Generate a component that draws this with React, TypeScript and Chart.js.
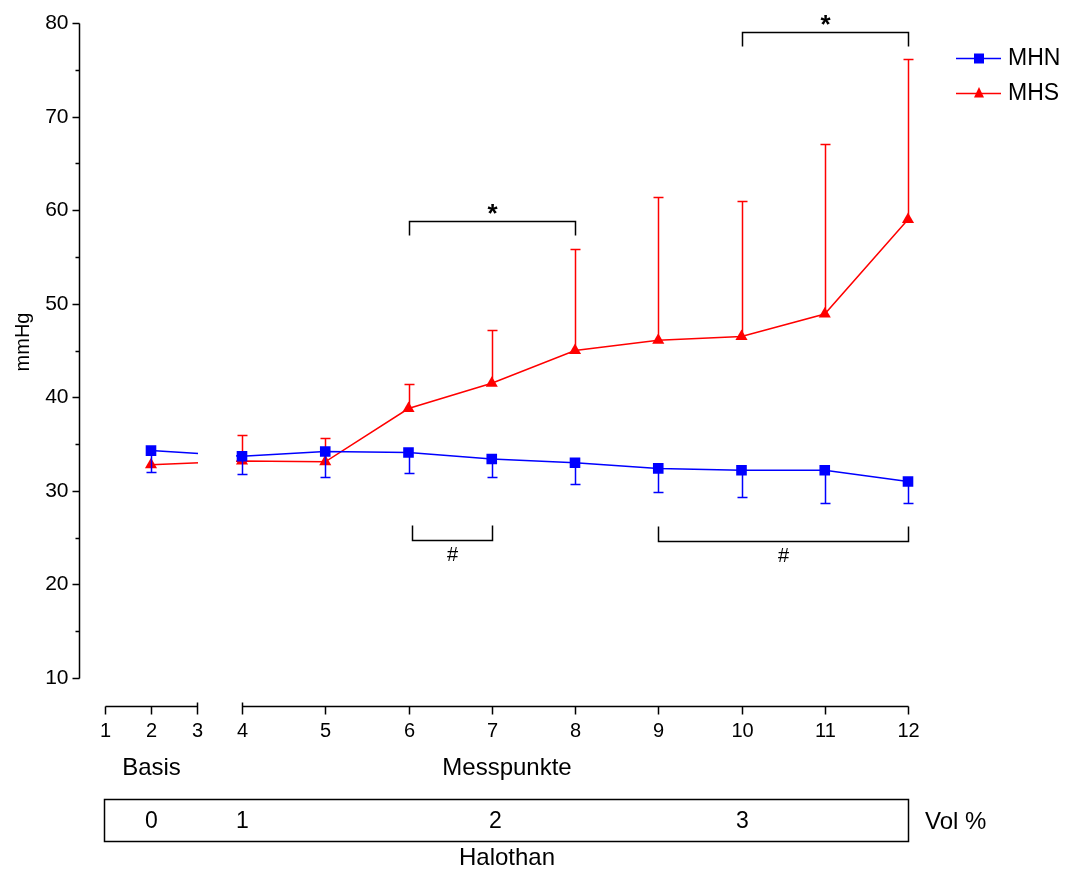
import React, { useEffect, useRef } from "react";
import { Chart, registerables } from "chart.js";

Chart.register(...registerables);

// Messpunkte (measurement points) and their tick labels
const xTickValues = [1, 2, 3, 4, 5, 6, 7, 8, 9, 10, 11, 12];
const xTickLabels = ["1", "2", "3", "4", "5", "6", "7", "8", "9", "10", "11", "12"];
const measuredPoints = [2, 4, 5, 6, 7, 8, 9, 10, 11, 12];

// MHN: mean and lower standard deviation (mmHg)
const mhnMean = [34.3, 33.7, 34.2, 34.1, 33.4, 33.0, 32.4, 32.2, 32.2, 31.0];
const mhnSD = [2.3, 1.9, 2.7, 2.2, 1.9, 2.3, 2.5, 2.9, 3.5, 2.3];

// MHS: mean and upper standard deviation (mmHg)
const mhsMean = [32.8, 33.2, 33.1, 38.8, 41.5, 45.0, 46.1, 46.5, 48.9, 59.0];
const mhsSD = [null, 2.8, 2.5, 2.6, 5.7, 10.9, 15.3, 14.5, 18.2, 17.1];

// y axis
const yTickValues = [10, 20, 30, 40, 50, 60, 70, 80];
const yMinorTicks = [15, 25, 35, 45, 55, 65, 75];

// Significance brackets
const starBrackets = [
  { from: 6, to: 8, y: 58.8, label: "*" },
  { from: 10, to: 12, y: 79.0, label: "*" },
];
const hashBrackets = [
  { from: 6.04, to: 7, y: 24.8, label: "#" },
  { from: 9, to: 12, y: 24.6, label: "#" },
];

// Halothan concentration band
const volLabels = ["0", "1", "2", "3"];
const volAt = [2, 4, 7, 10];

const FONT = "'Liberation Sans', Arial, Helvetica, sans-serif";
const BLUE = "#0000ff";
const RED = "#ff0000";

// Broken x axis: points 1–3 on a compressed segment, 4–12 on the main segment
const axisPos = (p: number) => (p <= 3 ? (p - 1) * 46 : 137 + (p - 4) * 83.25);

function drawText(
  ctx: CanvasRenderingContext2D,
  s: string,
  x: number,
  y: number,
  size: number,
  align: CanvasTextAlign = "center",
  rotate = 0,
  weight = "normal"
) {
  ctx.save();
  ctx.translate(x, y);
  if (rotate) ctx.rotate(rotate);
  ctx.font = `${weight} ${size}px ${FONT}`;
  ctx.fillStyle = "#000";
  ctx.textAlign = align;
  ctx.textBaseline = "middle";
  ctx.fillText(s, 0, 0);
  ctx.restore();
}

const sdBySeries = [
  { sd: mhnSD, dir: 1, color: BLUE, mean: mhnMean },
  { sd: mhsSD, dir: -1, color: RED, mean: mhsMean },
];

const decorations = {
  id: "decorations",
  beforeDatasetDraw(chart: any) {
    const ctx = chart.ctx as CanvasRenderingContext2D;
    const x = chart.scales.x;
    ctx.save();
    ctx.beginPath();
    const gapL = x.getPixelForValue(axisPos(3)) + 1;
    const gapR = x.getPixelForValue(axisPos(4)) - 6;
    ctx.rect(0, 0, gapL, chart.height);
    ctx.rect(gapR, 0, chart.width - gapR, chart.height);
    ctx.clip();
  },
  afterDatasetDraw(chart: any, args: any) {
    const ctx = chart.ctx as CanvasRenderingContext2D;
    ctx.restore();
    const x = chart.scales.x;
    const y = chart.scales.y;
    const s = sdBySeries[args.index];
    ctx.save();
    ctx.strokeStyle = s.color;
    ctx.lineWidth = 1.5;
    measuredPoints.forEach((p, i) => {
      const sd = s.sd[i];
      if (sd == null) return;
      const px = Math.round(x.getPixelForValue(axisPos(p))) + 0.5;
      const y0 = y.getPixelForValue(s.mean[i]);
      const y1 = Math.round(y.getPixelForValue(s.mean[i] - s.dir * sd)) + 0.5;
      ctx.beginPath();
      ctx.moveTo(px, y0);
      ctx.lineTo(px, y1);
      ctx.moveTo(px - 5, y1);
      ctx.lineTo(px + 5, y1);
      ctx.stroke();
    });
    ctx.restore();
  },
  afterDraw(chart: any) {
    const ctx = chart.ctx as CanvasRenderingContext2D;
    const x = chart.scales.x;
    const y = chart.scales.y;
    const X = (p: number) => Math.round(x.getPixelForValue(axisPos(p))) + 0.5;
    const Y = (v: number) => Math.round(y.getPixelForValue(v)) + 0.5;
    ctx.save();
    ctx.strokeStyle = "#000";
    ctx.lineWidth = 1.5;

    // y axis
    const yAxisX = 71.5;
    ctx.beginPath();
    ctx.moveTo(yAxisX, Y(80));
    ctx.lineTo(yAxisX, Y(10));
    yTickValues.forEach((v) => {
      ctx.moveTo(yAxisX, Y(v));
      ctx.lineTo(yAxisX - 7, Y(v));
    });
    yMinorTicks.forEach((v) => {
      ctx.moveTo(yAxisX, Y(v));
      ctx.lineTo(yAxisX - 4, Y(v));
    });
    ctx.stroke();
    yTickValues.forEach((v) => drawText(ctx, String(v), yAxisX - 11, Y(v), 21, "right"));
    drawText(ctx, "mmHg", 15, 334, 20, "center", -Math.PI / 2);

    // broken x axis
    const axisY = 698.5;
    ctx.beginPath();
    ctx.moveTo(X(1), axisY);
    ctx.lineTo(X(3), axisY);
    ctx.moveTo(X(4), axisY);
    ctx.lineTo(X(12), axisY);
    xTickValues.forEach((p) => {
      const up = p === 3 || p === 4 ? 4 : 0;
      ctx.moveTo(X(p), axisY - up);
      ctx.lineTo(X(p), axisY + 8);
    });
    ctx.stroke();
    xTickValues.forEach((p, i) => drawText(ctx, xTickLabels[i], X(p), 723, 20));
    drawText(ctx, "Basis", X(2), 760, 24);
    drawText(ctx, "Messpunkte", 499, 760, 24);

    // Halothan band
    const boxL = X(1) - 1;
    const boxR = X(12);
    ctx.strokeRect(boxL, 791.5, boxR - boxL, 42);
    volLabels.forEach((t, i) => drawText(ctx, t, X(volAt[i]) + (i === 2 ? 3 : 0), 814, 23));
    drawText(ctx, "Vol %", 917, 814, 24, "left");
    drawText(ctx, "Halothan", 499, 850, 24);

    // significance brackets
    ctx.lineWidth = 1.5;
    starBrackets.forEach((b) => {
      const yy = Y(b.y);
      ctx.beginPath();
      ctx.moveTo(X(b.from), yy + 14);
      ctx.lineTo(X(b.from), yy);
      ctx.lineTo(X(b.to), yy);
      ctx.lineTo(X(b.to), yy + 14);
      ctx.stroke();
      drawText(ctx, b.label, (X(b.from) + X(b.to)) / 2, yy - 7, 26, "center", 0, "bold");
    });
    hashBrackets.forEach((b) => {
      const yy = Y(b.y);
      ctx.beginPath();
      ctx.moveTo(X(b.from), yy - 15);
      ctx.lineTo(X(b.from), yy);
      ctx.lineTo(X(b.to), yy);
      ctx.lineTo(X(b.to), yy - 15);
      ctx.stroke();
      drawText(ctx, b.label, (X(b.from) + X(b.to)) / 2, yy + 15, 20);
    });

    // legend
    const legend = [
      { label: "MHN", color: BLUE, style: "rect", y: 50 },
      { label: "MHS", color: RED, style: "triangle", y: 85 },
    ];
    legend.forEach((l) => {
      ctx.strokeStyle = l.color;
      ctx.fillStyle = l.color;
      ctx.lineWidth = 1.5;
      ctx.beginPath();
      ctx.moveTo(948, l.y + 0.5);
      ctx.lineTo(993, l.y + 0.5);
      ctx.stroke();
      ctx.beginPath();
      if (l.style === "rect") {
        ctx.rect(966, l.y - 4.5, 10, 10);
      } else {
        ctx.moveTo(971, l.y - 6);
        ctx.lineTo(976, l.y + 4.5);
        ctx.lineTo(966, l.y + 4.5);
        ctx.closePath();
      }
      ctx.fill();
      drawText(ctx, l.label, 1000, l.y + 1, 23, "left");
    });
    ctx.restore();
  },
};

export default function App() {
  const ref = useRef<HTMLCanvasElement>(null);

  useEffect(() => {
    if (!ref.current) return;
    const chart = new Chart(ref.current, {
      type: "line",
      data: {
        datasets: [
          {
            label: "MHN",
            data: measuredPoints.map((p, i) => ({ x: axisPos(p), y: mhnMean[i] })),
            borderColor: BLUE,
            backgroundColor: BLUE,
            borderWidth: 1.5,
            pointStyle: "rect",
            pointRadius: 7.5,
            pointBorderWidth: 0,
            tension: 0,
            clip: false as any,
          },
          {
            label: "MHS",
            data: measuredPoints.map((p, i) => ({ x: axisPos(p), y: mhsMean[i] })),
            borderColor: RED,
            backgroundColor: RED,
            borderWidth: 1.5,
            pointStyle: "triangle",
            pointRadius: 7,
            pointBorderWidth: 0,
            tension: 0,
            clip: false as any,
          },
        ],
      },
      options: {
        responsive: false,
        animation: false,
        events: [],
        layout: { padding: { left: 97, right: 160, top: 15, bottom: 193 } },
        plugins: { legend: { display: false }, tooltip: { enabled: false } },
        scales: {
          x: { type: "linear", display: false, min: 0, max: axisPos(12) },
          y: { type: "linear", display: false, min: 10, max: 80 },
        },
      },
      plugins: [decorations],
    });
    return () => chart.destroy();
  }, []);

  return (
    <div style={{ position: "fixed", left: 8, top: 8, width: 1060, height: 863 }}>
      <canvas ref={ref} width={1060} height={863} style={{ display: "block" }} />
    </div>
  );
}
